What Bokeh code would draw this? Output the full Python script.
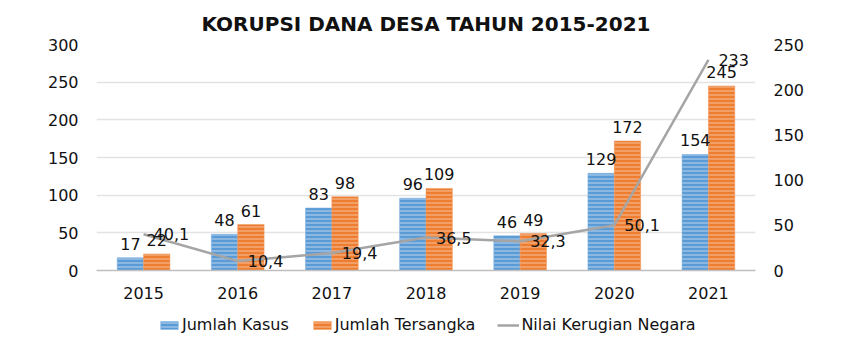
from bokeh.plotting import figure
from bokeh.layouts import column
from bokeh.models import (ColumnDataSource, Range1d, LinearAxis, FactorRange, Legend, LegendItem,
                          SingleIntervalTicker, LabelSet)
from bokeh.transform import dodge
from bokeh.core.properties import value
from bokeh.embed import file_html
from bokeh.resources import INLINE

years = ["2015", "2016", "2017", "2018", "2019", "2020", "2021"]
kasus = [17, 48, 83, 96, 46, 129, 154]
tersangka = [22, 61, 98, 109, 49, 172, 245]
kerugian = [40.1, 10.4, 19.4, 36.5, 32.3, 50.1, 233]
series_names = ["Jumlah Kasus", "Jumlah Tersangka", "Nilai Kerugian Negara"]

def fmt(v):
    s = f"{v:g}"
    return s.replace(".", ",")

src = ColumnDataSource(dict(
    years=years, kasus=kasus, tersangka=tersangka, kerugian=kerugian,
    kasus_t=[str(v) for v in kasus], ters_t=[str(v) for v in tersangka],
    rug_t=[fmt(v) for v in kerugian],
))

FONT = "DejaVu Sans"
BLUE = dict(fill_color="#5B9BD5", line_color="#7FB0E0", line_width=0.5,
            hatch_pattern="horizontal_line", hatch_color="#B9D5F0", hatch_scale=4, hatch_weight=1)
ORANGE = dict(fill_color="#ED7D31", line_color="#F19A5E", line_width=0.5,
              hatch_pattern="horizontal_line", hatch_color="#F8C09A", hatch_scale=4, hatch_weight=1)
GRAY = dict(line_color="#A5A5A5", line_width=2.5)

p = figure(x_range=FactorRange(*years), y_range=Range1d(0, 300), width=852, height=305,
           output_backend="svg", toolbar_location=None,
           min_border_left=96, min_border_right=97, min_border_top=43, min_border_bottom=35,
           title="KORUPSI DANA DESA TAHUN 2015-2021")
p.title.align = "center"
p.title.standoff = 18
p.title.offset = -8
p.title.text_font = FONT
p.title.text_font_style = "bold"
p.title.text_font_size = "20px"
p.title.text_color = "#111111"
p.outline_line_color = None
p.extra_y_ranges = {"rug": Range1d(0, 250)}

bw = 0.28
p.vbar(x=dodge("years", -bw / 2, range=p.x_range), top="kasus", width=bw, source=src, **BLUE)
p.vbar(x=dodge("years", bw / 2, range=p.x_range), top="tersangka", width=bw, source=src, **ORANGE)
p.line(x="years", y="kerugian", source=src, y_range_name="rug", **GRAY)

lab_kw = dict(text_font=value(FONT), text_font_size="16px", text_color="#111111",
              text_align="center", text_baseline="bottom", y_offset=8)
p.add_layout(LabelSet(x=dodge("years", -bw / 2, range=p.x_range), y="kasus", text="kasus_t",
                      source=src, **lab_kw))
p.add_layout(LabelSet(x=dodge("years", bw / 2, range=p.x_range), y="tersangka", text="ters_t",
                      source=src, **lab_kw))
p.add_layout(LabelSet(x="years", y="kerugian", text="rug_t", source=src, y_range_name="rug",
                      text_font=value(FONT), text_font_size="16px", text_color="#111111",
                      text_align="left", text_baseline="middle", x_offset=10, y_offset=0))

# axes
p.yaxis.ticker = SingleIntervalTicker(interval=50)
ra = LinearAxis(y_range_name="rug", ticker=SingleIntervalTicker(interval=50))
p.add_layout(ra, "right")
for ax in [p.yaxis[0], ra]:
    ax.axis_line_color = None
    ax.major_tick_line_color = None
    ax.minor_tick_line_color = None
    ax.major_label_text_font = FONT
    ax.major_label_text_font_size = "16px"
    ax.major_label_text_color = "#111111"
    ax.major_label_standoff = 12
p.xaxis.axis_line_color = "#BFBFBF"
p.xaxis.axis_line_width = 1.5
p.xaxis.major_tick_line_color = None
p.xaxis.minor_tick_line_color = None
p.xaxis.major_label_text_font = FONT
p.xaxis.major_label_text_font_size = "16px"
p.xaxis.major_label_text_color = "#111111"
p.xaxis.major_label_standoff = 10
p.xgrid.grid_line_color = None
p.ygrid.grid_line_color = "#E3E3E3"
p.ygrid.grid_line_width = 1.5
p.x_range.range_padding = 0
p.x_range.factor_padding = 0

# legend strip below (proxy glyphs sit outside the visible range)
lf = figure(width=852, height=48, output_backend="svg", toolbar_location=None,
            x_axis_type=None, y_axis_type=None, min_border=0,
            x_range=Range1d(0, 1), y_range=Range1d(0, 1))
lf.outline_line_color = None
lf.xgrid.grid_line_color = None
lf.ygrid.grid_line_color = None
proxy = ColumnDataSource(dict(x=[-5, -4], y=[-5, -4]))
l1 = lf.vbar(x="x", top="y", width=0.1, source=proxy, **BLUE)
l2 = lf.vbar(x="x", top="y", width=0.1, source=proxy, **ORANGE)
l3 = lf.line(x="x", y="y", source=proxy, **GRAY)
legend = Legend(items=[
    LegendItem(label=series_names[0], renderers=[l1]),
    LegendItem(label=series_names[1], renderers=[l2]),
    LegendItem(label=series_names[2], renderers=[l3]),
], orientation="horizontal", location=(62, 19))
legend.label_text_font = FONT
legend.label_text_font_size = "16px"
legend.label_text_color = "#111111"
legend.border_line_color = None
legend.background_fill_alpha = 0
legend.glyph_width = 22
legend.glyph_height = 10
legend.spacing = 22
legend.label_standoff = 2
legend.padding = 2
legend.margin = 0
lf.add_layout(legend, "center")

layout = column(p, lf, spacing=0)
open("out.html", "w").write(file_html(layout, INLINE))
